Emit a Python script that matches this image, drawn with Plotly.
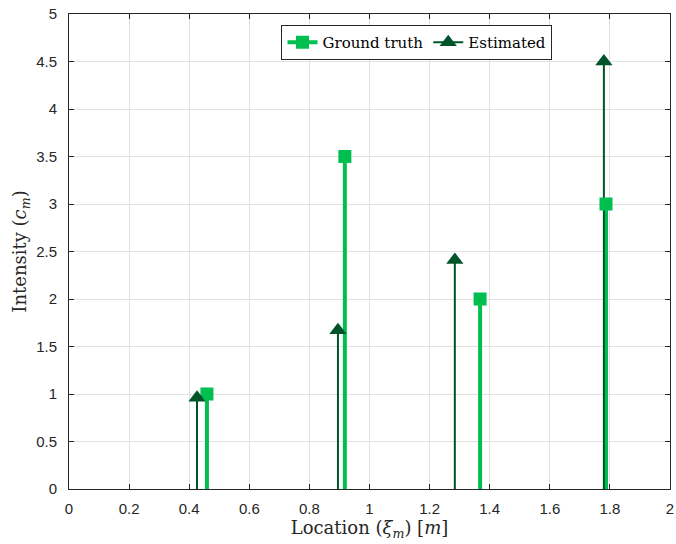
import plotly.graph_objects as go

# Data
gt_loc = [0.459, 0.918, 1.368, 1.787]
gt_val = [1.0, 3.5, 2.0, 3.0]
est_loc = [0.426, 0.895, 1.284, 1.780]
est_val = [0.96, 1.67, 2.41, 4.5]

x_ticks = [0, 0.2, 0.4, 0.6, 0.8, 1, 1.2, 1.4, 1.6, 1.8, 2]
x_tick_text = ["0", "0.2", "0.4", "0.6", "0.8", "1", "1.2", "1.4", "1.6", "1.8", "2"]
y_ticks = [0, 0.5, 1, 1.5, 2, 2.5, 3, 3.5, 4, 4.5, 5]
y_tick_text = ["0", "0.5", "1", "1.5", "2", "2.5", "3", "3.5", "4", "4.5", "5"]

GT_COLOR = "#00bf50"
EST_COLOR = "#00542a"


def stems(locs, vals):
    xs, ys = [], []
    for x, v in zip(locs, vals):
        xs += [x, x, None]
        ys += [0, v, None]
    return xs, ys


fig = go.Figure()

gx, gy = stems(gt_loc, gt_val)
ex, ey = stems(est_loc, est_val)

# stems
fig.add_trace(go.Scatter(x=gx, y=gy, mode="lines", line=dict(color=GT_COLOR, width=4),
                         showlegend=False, hoverinfo="skip"))
fig.add_trace(go.Scatter(x=ex, y=ey, mode="lines", line=dict(color=EST_COLOR, width=2),
                         showlegend=False, hoverinfo="skip"))
# markers
fig.add_trace(go.Scatter(x=gt_loc, y=gt_val, mode="markers",
                         marker=dict(symbol="square", size=13, color=GT_COLOR),
                         showlegend=False))
fig.add_trace(go.Scatter(x=est_loc, y=est_val, mode="markers",
                         marker=dict(symbol="triangle-up", size=15, color=EST_COLOR),
                         showlegend=False))
# legend entries
fig.add_trace(go.Scatter(x=[None], y=[None], mode="lines+markers", name="Ground truth",
                         line=dict(color=GT_COLOR, width=4),
                         marker=dict(symbol="square", size=13, color=GT_COLOR)))
fig.add_trace(go.Scatter(x=[None], y=[None], mode="lines+markers", name="Estimated",
                         line=dict(color=EST_COLOR, width=2),
                         marker=dict(symbol="triangle-up", size=15, color=EST_COLOR)))

axis_common = dict(
    showline=True, linecolor="#262626", linewidth=1, mirror="allticks",
    ticks="inside", ticklen=5, tickcolor="#262626",
    showgrid=True, gridcolor="#e1e1e1", gridwidth=1,
    zeroline=False, ticklabeloverflow="allow", automargin=False,
    tickfont=dict(family="Liberation Sans, Arial, sans-serif", size=15, color="#262626"),
)

TITLE_FONT = dict(family="DejaVu Serif, serif", size=18, color="#262626")

fig.update_layout(
    width=676, height=544,
    margin=dict(l=69, r=6, t=14, b=55),
    plot_bgcolor="white", paper_bgcolor="white",
    xaxis=dict(range=[0, 2], tickvals=x_ticks, ticktext=x_tick_text,
               ticklabelstandoff=6,
               title=dict(text="Location (<i>ξ<sub>m</sub></i>) [<i>m</i>]",
                          font=TITLE_FONT, standoff=4),
               **axis_common),
    yaxis=dict(range=[0, 5], tickvals=y_ticks, ticktext=y_tick_text,
               ticklabelstandoff=8,
               title=dict(text="Intensity (<i>c<sub>m</sub></i>)",
                          font=TITLE_FONT, standoff=4),
               **axis_common),
    legend=dict(orientation="h", x=0.579, xanchor="center", y=0.977, yanchor="top",
                bgcolor="white", bordercolor="#262626", borderwidth=1,
                font=dict(family="DejaVu Serif, serif", size=15, color="#000000"),
                tracegroupgap=0),
)

fig.write_html("out.html",
               config={"displayModeBar": False},
               post_script="document.body.style.margin='0';document.body.style.overflow='hidden';")
